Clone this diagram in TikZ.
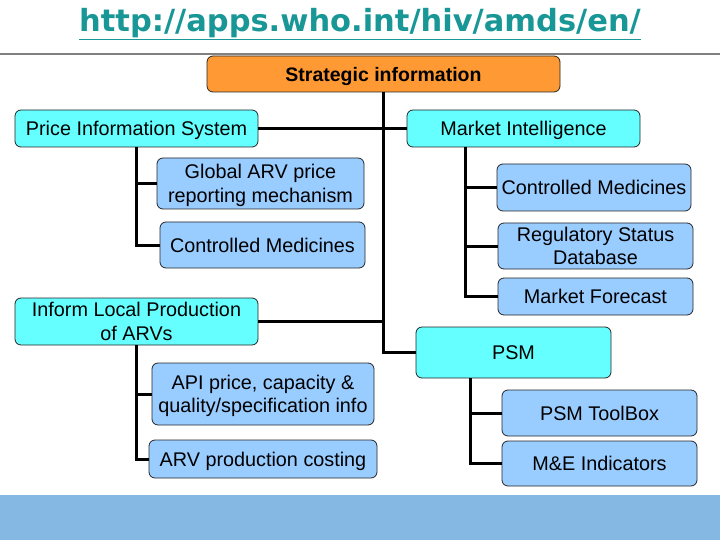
\documentclass[tikz,border=0pt]{standalone}
\usepackage{fontspec}
\setmainfont{Liberation Sans}
\newfontfamily\urlfont{DejaVu Sans}
\usepackage{tikz}
\definecolor{urlteal}{RGB}{25,150,150}
\definecolor{orangefill}{RGB}{255,153,51}
\definecolor{cyanfill}{RGB}{102,255,255}
\definecolor{bluefill}{RGB}{153,204,255}
\definecolor{bandblue}{RGB}{133,185,228}

\begin{document}
\begin{tikzpicture}[x=1pt, y=-1pt,
  box/.style={draw=black!85, line width=0.8pt, rounded corners=6pt, inner sep=2pt,
    align=center, text depth=0pt, font=\fontsize{19.8}{23.5}\selectfont},
  topbox/.style={box, fill=orangefill, font=\bfseries\fontsize{19.5}{23}\selectfont},
  areabox/.style={box, fill=cyanfill},
  itembox/.style={box, fill=bluefill},
  link/.style={line width=3pt}]
\useasboundingbox (0,0) rectangle (720,540);
\fill[bandblue] (0,495) rectangle (720,540);
\draw[black!50, line width=1.5pt] (0,54) -- (720,54);

\node (url) at (360, 24) [text=urlteal, font=\urlfont\bfseries\fontsize{30.5}{33}\selectfont] {\underline{http://apps.who.int/hiv/amds/en/}};

\node (strat) at (383.5, 74) [topbox, minimum width=353, minimum height=36] {Strategic information};

\node (pis) at (136.5, 128.5) [areabox, minimum width=243, minimum height=37] {Price Information System};
\node (mi) at (523.5, 128.5) [areabox, minimum width=233, minimum height=37] {Market Intelligence};
\node (ilp) at (136.5, 321.5) [areabox, minimum width=243, minimum height=47] {Inform Local Production\\of ARVs};
\node (psm) at (513.5, 352.5) [areabox, minimum width=195, minimum height=51] {PSM};

\node (garv) at (260.5, 183.5) [itembox, minimum width=207, minimum height=51] {Global ARV price\\reporting mechanism};
\node (cml) at (262.5, 245) [itembox, minimum width=205, minimum height=46] {Controlled Medicines};
\node (api) at (263, 394) [itembox, minimum width=222, minimum height=62] {API price, capacity \&\\quality/specification info};
\node (arvc) at (263, 459) [itembox, minimum width=228, minimum height=38] {ARV production costing};

\node (cmr) at (594, 187.5) [itembox, minimum width=194, minimum height=47] {Controlled Medicines};
\node (rsd) at (595.5, 246) [itembox, minimum width=195, minimum height=46] {Regulatory Status\\Database};
\node (mf) at (595.5, 296.5) [itembox, minimum width=195, minimum height=37] {Market Forecast};
\node (psmt) at (599.5, 413) [itembox, minimum width=195, minimum height=46] {PSM ToolBox};
\node (mei) at (599.5, 463.5) [itembox, minimum width=195, minimum height=45] {M\&E Indicators};

% trunk
\draw[link] (strat.south) |- (psm.west);
\draw[link] (pis.east) -- (mi.west);
\draw[link] (ilp.east) -- (ilp.east -| strat.south);

\draw[link] (pis.south) |- (garv.west);
\draw[link] (pis.south) |- (cml.west);
\draw[link] (ilp.south) |- (api.west);
\draw[link] (ilp.south) |- (arvc.west);

\draw[link] ([xshift=-58.5pt]mi.south) |- (cmr.west);
\draw[link] ([xshift=-58.5pt]mi.south) |- (rsd.west);
\draw[link] ([xshift=-58.5pt]mi.south) |- (mf.west);
\draw[link] ([xshift=-43.5pt]psm.south) |- (psmt.west);
\draw[link] ([xshift=-43.5pt]psm.south) |- (mei.west);
\end{tikzpicture}
\end{document}
